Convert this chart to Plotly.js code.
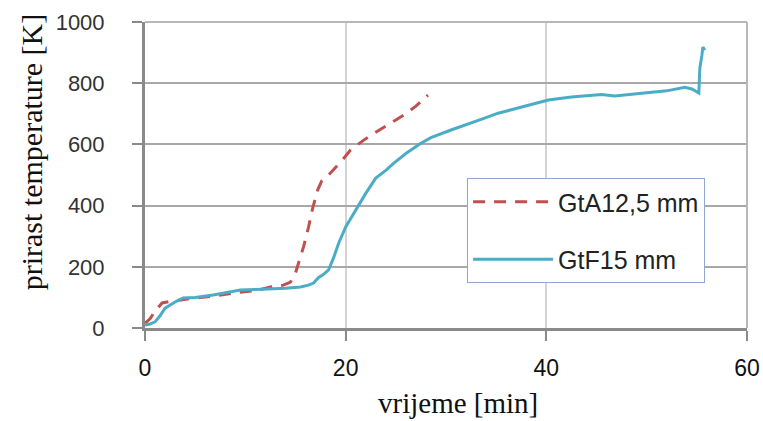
<!DOCTYPE html>
<html>
<head>
<meta charset="utf-8">
<script src="https://cdn.plot.ly/plotly-3.0.1.min.js"></script>
<style>html,body{margin:0;padding:0;background:#fff;}#chart{width:763px;height:421px;}</style>
</head>
<body>
<div id="chart"></div>
<script>
const seriesNames = ["GtA12,5 mm", "GtF15 mm"];
const xTitle = "vrijeme [min]";
const yTitle = "prirast temperature [K]";

const gtaX = [0, 0.5, 1, 1.7, 2.5, 3.5, 5, 7, 9, 11, 12.5, 13.8, 14.5, 15, 15.5, 15.8, 16.3, 16.7, 17.2, 17.6, 18.3, 18.8, 19.7, 20.5, 21.8, 23, 23.8, 25, 25.8, 27, 28.2];
const gtaY = [16, 30, 55, 82, 87, 92, 98, 105, 115, 122, 134, 140, 150, 180, 230, 265, 330, 390, 450, 480, 500, 517, 550, 582, 614, 640, 657, 680, 696, 725, 761];

const gtfX = [0, 0.5, 1, 1.5, 2, 3, 3.8, 5, 6.8, 8, 9.5, 11, 12.5, 14, 15.5, 16.3, 16.8, 17.3, 17.7, 18.3, 18.8, 19.3, 20, 21.2, 22, 23, 24, 24.8, 26, 27.5, 28.5, 30.5, 31.8, 33.5, 35.2, 37.5, 40.2, 42.5, 44.5, 45.5, 46.8, 48.5, 50.2, 52, 53.8, 54.5, 55.2, 55.3, 55.5, 55.6, 55.8];
const gtfY = [10, 13, 20, 40, 65, 85, 98, 100, 108, 115, 124, 126, 127, 130, 134, 140, 147, 165, 173, 190, 230, 277, 330, 396, 440, 490, 515, 539, 570, 604, 622, 647, 663, 682, 702, 722, 745, 755, 761, 763, 758, 763, 768, 775, 787, 781, 768, 850, 890, 918, 908];

const xTicks = [0, 20, 40, 60];
const yTicks = [0, 200, 400, 600, 800, 1000];

const traces = [
  {x: gtaX, y: gtaY, name: seriesNames[0], type: 'scatter', mode: 'lines', legendgroup: 'a',
   line: {color: '#c0504d', width: 3, dash: '12px,9px'}},
  {x: gtfX, y: gtfY, name: seriesNames[1], type: 'scatter', mode: 'lines', legendgroup: 'b',
   line: {color: '#4bacc6', width: 3}}
];

const serif = 'Liberation Serif, Times New Roman, serif';
const sans = 'Liberation Sans, Arial, sans-serif';

const layout = {
  width: 763, height: 421,
  margin: {l: 145, r: 16, t: 22, b: 93},
  paper_bgcolor: '#ffffff', plot_bgcolor: '#ffffff',
  showlegend: true,
  xaxis: {
    range: [0, 60], tickvals: xTicks, ticktext: xTicks.map(String),
    showgrid: true, gridcolor: '#d4d4d4', gridwidth: 2,
    showline: true, linecolor: '#8a8a8a', linewidth: 3,
    ticks: 'outside', ticklen: 10, tickcolor: '#8a8a8a', tickwidth: 2,
    ticklabelstandoff: 7,
    tickfont: {family: sans, size: 23, color: '#111'},
    zeroline: false, automargin: false
  },
  yaxis: {
    range: [0, 1000], tickvals: yTicks, ticktext: yTicks.map(String),
    showgrid: true, gridcolor: '#a8a8a8', gridwidth: 2,
    showline: true, linecolor: '#8a8a8a', linewidth: 3,
    ticks: 'outside', ticklen: 10, tickcolor: '#8a8a8a', tickwidth: 2,
    ticklabelstandoff: 23,
    tickfont: {family: sans, size: 22, color: '#333'},
    zeroline: false, automargin: false
  },
  shapes: [
    {type: 'line', xref: 'paper', yref: 'paper', x0: 0, x1: 1, y0: 1, y1: 1, line: {color: '#b8b8b8', width: 2}},
    {type: 'line', xref: 'paper', yref: 'paper', x0: 1, x1: 1, y0: 0, y1: 1, line: {color: '#b8b8b8', width: 2}}
  ],
  annotations: [
    {text: xTitle, xref: 'paper', yref: 'paper', x: 0.52, y: -0.245, xanchor: 'center', yanchor: 'middle',
     showarrow: false, font: {family: serif, size: 29, color: '#111'}},
    {text: yTitle, xref: 'paper', yref: 'paper', x: -0.189, y: 0.575, xanchor: 'center', yanchor: 'middle',
     textangle: -90, showarrow: false, font: {family: serif, size: 30, color: '#111'}}
  ],
  legend: {
    x: 0.535, y: 0.49, xanchor: 'left', yanchor: 'top',
    bgcolor: '#ffffff', bordercolor: '#8ea9d0', borderwidth: 1,
    font: {family: sans, size: 25, color: '#222'},
    tracegroupgap: 22, itemwidth: 80
  }
};

Plotly.newPlot('chart', traces, layout, {staticPlot: true, displayModeBar: false});
</script>
</body>
</html>
